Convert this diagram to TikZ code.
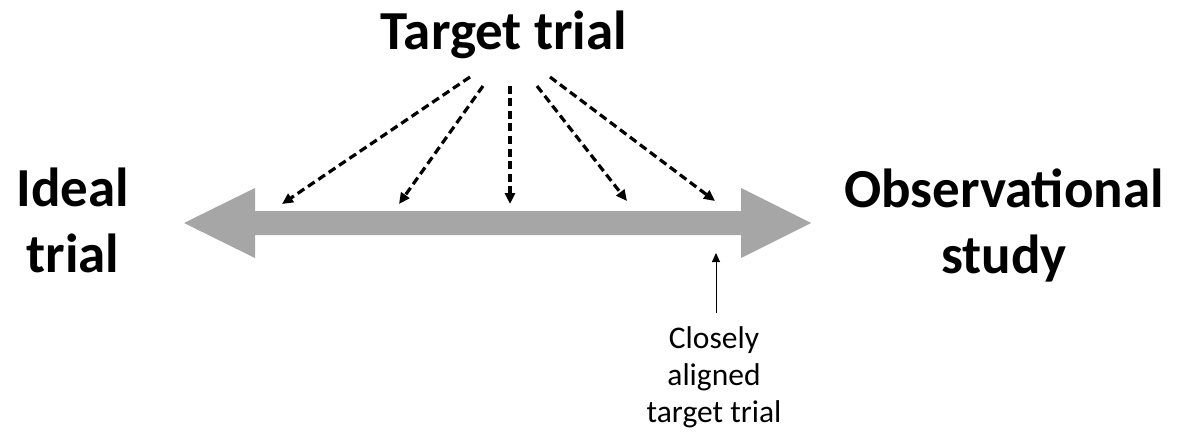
\documentclass[tikz,border=0pt]{standalone}
\usepackage{fontspec}
\setmainfont{Carlito}
\usetikzlibrary{arrows.meta}
\definecolor{bargray}{HTML}{A6A6A6}
\begin{document}
\begin{tikzpicture}[x=1pt,y=-1pt,
  bigtext/.style={font=\fontsize{55}{66}\selectfont\bfseries, inner sep=0pt, align=center},
  smalltext/.style={font=\fontsize{31.5}{37}\selectfont, inner sep=0pt, align=center},
  dasharrow/.style={line width=3.2pt, dash pattern=on 8pt off 4.5pt, -{Triangle[length=11pt,width=10pt]}},
  thinarrow/.style={line width=0.9pt, -{Triangle[length=9pt,width=8pt]}}]
\useasboundingbox (0,0) rectangle (1177,433);
% grey double arrow
\fill[bargray] (184,223) -- (255,188) -- (255,211) -- (741,211) -- (741,188)
  -- (811,223) -- (741,258) -- (741,235) -- (255,235) -- (255,258) -- cycle;
% texts (base anchor = baseline of the last line)
\node[bigtext, anchor=base] (target) at (504,50) {Target trial};
\node[bigtext, anchor=base] (ideal) at (73,272) {Ideal\\trial};
\node[bigtext, anchor=base] (obs) at (1004,273) {Observational\\study};
\node[smalltext, anchor=base] (close) at (714,422) {Closely\\aligned\\target trial};
% start/end coordinates
\coordinate (s1) at (470,77);
\coordinate (s2) at (483,86);
\coordinate (s3) at (510,86);
\coordinate (s4) at (537,86);
\coordinate (s5) at (550,77);
\coordinate (e1) at (282,204);
\coordinate (e2) at (399,204);
\coordinate (e3) at (510,204);
\coordinate (e4) at (627,201);
\coordinate (e5) at (715,201);
\coordinate (c0) at (716,313);
\coordinate (c1) at (716,253);
\foreach \i in {1,...,5} {\draw[dasharrow] (s\i) -- (e\i);}
\draw[thinarrow] (c0) -- (c1);
\end{tikzpicture}
\end{document}
